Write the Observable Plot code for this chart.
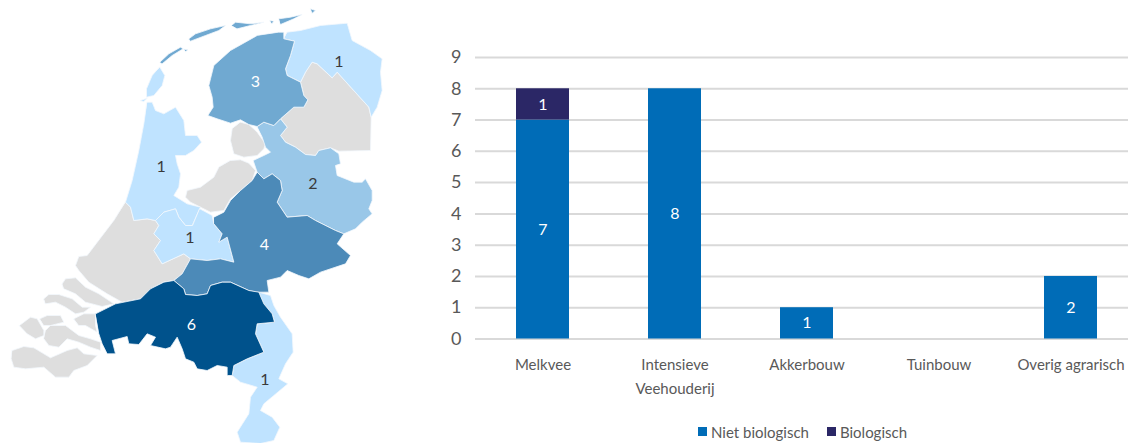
<!DOCTYPE html>
<html>
<head>
<meta charset="utf-8">
<script src="https://cdn.jsdelivr.net/npm/d3@7"></script>
<script src="https://cdn.jsdelivr.net/npm/@observablehq/plot@0.6"></script>
<style>
html,body{margin:0;padding:0;background:#fff;overflow:hidden;width:1128px;height:443px;}
#map{position:absolute;left:0;top:0;}
#bars{position:absolute;left:440px;top:0;width:688px;}
#legend{display:flex;justify-content:flex-start;align-items:center;height:23px;margin-left:258px;font:15px Lato,sans-serif;color:#595959;}
#legend i{display:inline-block;width:9px;height:9px;margin-right:4px;}
#legend span{margin-right:18px;white-space:nowrap;}
svg text{font-family:Lato,sans-serif;}
</style>
</head>
<body>
<div id="map"></div>
<div id="bars"></div>
<script>
// Bar chart data
const categories = ["Melkvee", "Intensieve\nVeehouderij", "Akkerbouw", "Tuinbouw", "Overig agrarisch"];
const nietBiologisch = [7, 8, 1, 0, 2];
const biologisch = [1, 0, 0, 0, 0];
const seriesNames = ["Niet biologisch", "Biologisch"];
const seriesColors = ["#006cb7", "#2b2766"];
const yTicks = [0, 1, 2, 3, 4, 5, 6, 7, 8, 9];

// Map data: province outlines in map units
const friesland = [[835,95],[850,95],[850,115],[882,122],[870,165],[855,205],[860,225],[900,245],[910,285],[922,298],[910,320],[880,320],[840,355],[820,375],[790,365],[770,378],[745,372],[720,358],[690,368],[650,355],[622,345],[638,320],[635,290],[625,255],[630,235],[640,195],[690,150],[770,105]];
const vlieland = [[478,185],[505,160],[540,140],[548,145],[515,165],[485,190]];
const terschelling = [[565,115],[585,100],[630,85],[675,75],[655,90],[615,105],[570,122]];
const ameland = [[693,75],[705,65],[750,70],[790,65],[750,75],[710,85]];
const schiermonnikoog = [[835,55],[870,50],[905,42],[880,55],[840,72]];
const rottumeroog = [[930,25],[945,30],[935,38]];
const engelsmanplaat = [[808,60],[820,62],[814,70]];
const griend = [[550,146],[562,148],[556,153]];
const groningen = [[860,95],[900,90],[960,75],[1040,68],[1055,120],[1110,150],[1145,175],[1140,215],[1145,270],[1130,320],[1112,350],[1105,320],[1010,215],[995,232],[950,190],[935,185],[915,215],[900,245],[860,225],[855,205],[870,165],[882,122],[850,115]];
const drenthe = [[935,185],[950,190],[995,232],[1010,215],[1105,320],[1112,350],[1110,450],[1015,452],[990,442],[955,450],[945,465],[915,462],[885,440],[855,425],[840,405],[860,380],[840,355],[880,320],[910,320],[922,298],[910,285],[900,245],[915,215]];
const overijssel = [[770,378],[790,365],[820,375],[840,355],[860,380],[840,405],[855,425],[885,440],[915,462],[945,465],[955,450],[990,442],[1015,460],[1020,490],[1005,495],[1010,525],[1060,545],[1085,545],[1095,535],[1115,570],[1115,600],[1105,625],[1115,640],[1085,665],[1065,685],[1030,700],[1005,690],[945,660],[920,645],[860,650],[830,605],[845,570],[840,540],[815,520],[790,535],[770,515],[758,480],[790,465],[810,455],[795,440],[785,410]];
const noordoostpolder = [[720,365],[745,372],[770,395],[795,430],[790,445],[770,465],[730,470],[700,460],[690,420],[695,385]];
const flevoland = [[690,480],[720,478],[745,488],[765,510],[755,540],[720,570],[690,595],[670,630],[630,635],[570,605],[555,590],[560,570],[600,560],[640,530],[655,500]];
const noordHolland = [[440,305],[455,305],[465,330],[490,340],[525,320],[550,360],[555,405],[590,405],[603,425],[580,450],[555,465],[525,465],[530,490],[540,520],[535,560],[520,585],[560,610],[600,620],[575,675],[555,675],[535,650],[525,625],[490,635],[465,660],[440,655],[400,660],[390,620],[375,605],[395,540],[415,450],[430,370]];
const texel = [[478,200],[493,225],[485,255],[460,285],[438,290],[438,265],[455,225]];
const noorderhaaks = [[420,300],[440,293],[430,303]];
const utrecht = [[598,625],[635,645],[640,670],[665,700],[655,725],[680,710],[700,785],[660,775],[620,780],[570,775],[550,760],[485,790],[460,750],[480,720],[460,700],[475,675],[465,660],[490,635],[525,625],[535,650],[555,675],[575,675]];
const zuidHolland = [[375,605],[390,620],[400,660],[440,655],[465,660],[475,675],[460,700],[480,720],[460,750],[485,790],[550,760],[570,775],[545,820],[520,840],[490,845],[450,865],[420,895],[365,905],[320,880],[265,845],[235,810],[225,795],[235,768],[260,765],[340,660]];
const goeree = [[185,850],[195,835],[225,832],[255,860],[295,880],[340,910],[305,918],[255,905],[225,880],[190,865]];
const schouwen = [[130,895],[145,882],[175,882],[215,895],[245,920],[270,920],[250,935],[225,940],[195,920],[165,905],[135,910]];
const noordBeveland = [[118,955],[140,945],[180,945],[190,965],[150,975],[130,975]];
const walcheren = [[57,975],[90,950],[110,955],[130,990],[130,1005],[105,1015],[80,1000]];
const zuidBeveland = [[135,990],[150,975],[195,975],[235,1005],[270,1015],[300,1025],[300,1050],[270,1040],[235,1025],[200,1015],[175,1040],[145,1035],[130,1015]];
const tholen = [[220,955],[250,940],[285,940],[285,975],[290,995],[255,975],[235,975]];
const zeeuwsVlaanderen = [[35,1050],[70,1038],[100,1042],[150,1072],[200,1050],[230,1042],[250,1060],[290,1065],[260,1095],[220,1110],[205,1130],[165,1130],[130,1100],[75,1105],[40,1100],[32,1075]];
const gelderland = [[640,650],[670,635],[690,600],[720,570],[755,540],[770,515],[790,535],[815,520],[840,540],[845,570],[830,605],[860,650],[920,645],[945,660],[1005,690],[1030,700],[1010,730],[1050,765],[1035,790],[960,815],[925,835],[895,825],[860,810],[840,830],[800,840],[805,875],[790,875],[770,875],[745,870],[690,845],[665,845],[630,855],[620,880],[590,885],[555,882],[550,865],[520,840],[545,820],[570,775],[620,780],[660,775],[700,785],[680,710],[655,725],[665,700],[640,670]];
const noordBrabant = [[285,940],[345,910],[420,895],[450,865],[490,845],[520,840],[550,865],[555,882],[590,885],[620,880],[630,855],[665,845],[690,845],[745,870],[775,875],[790,910],[815,940],[822,965],[770,970],[765,1000],[790,1055],[740,1075],[700,1095],[695,1125],[680,1125],[680,1100],[650,1095],[620,1110],[590,1105],[580,1085],[555,1075],[545,1045],[530,1010],[510,1040],[495,1045],[450,1035],[465,1010],[440,1000],[415,1032],[385,1030],[380,1008],[335,1020],[345,1060],[320,1060],[305,1030],[295,1000]];
const limburg = [[775,875],[810,885],[820,915],[840,950],[875,1000],[878,1055],[855,1090],[835,1135],[862,1150],[820,1185],[790,1210],[780,1230],[815,1250],[838,1280],[820,1320],[780,1329],[720,1325],[710,1295],[745,1240],[750,1190],[770,1160],[720,1145],[695,1125],[700,1095],[740,1075],[790,1055],[765,1000],[770,970],[822,965],[815,940],[790,910]];

const provinceShapes = [
  {count: 0, parts: [noordoostpolder]},
  {count: 0, parts: [flevoland]},
  {count: 0, parts: [drenthe]},
  {count: 0, parts: [zuidHolland, goeree]},
  {count: 0, parts: [schouwen, noordBeveland, walcheren, zuidBeveland, tholen, zeeuwsVlaanderen]},
  {count: 1, parts: [noordHolland, texel, noorderhaaks]},
  {count: 1, parts: [groningen]},
  {count: 1, parts: [utrecht]},
  {count: 1, parts: [limburg]},
  {count: 2, parts: [overijssel]},
  {count: 3, parts: [friesland, vlieland, griend, terschelling, ameland, schiermonnikoog, engelsmanplaat, rottumeroog]},
  {count: 4, parts: [gelderland]},
  {count: 6, parts: [noordBrabant]}
];
const countLevels = [0, 1, 2, 3, 4, 6];
const countColors = ["#dedede", "#bfe3ff", "#99c7e8", "#70a9d1", "#4c8ab8", "#00528c"];
const labelX = [765, 1015, 482, 937, 568, 792, 573, 793];
const labelY = [245, 183, 498, 550, 712, 732, 973, 1138];
const labelCount = [3, 1, 1, 2, 1, 4, 6, 1];

const features = provinceShapes.map(p => ({
  type: "Feature",
  properties: {count: p.count},
  geometry: {type: "MultiPolygon", coordinates: p.parts.map(r => [[...r, r[0]]])}
}));
const mapLabels = labelCount.map((c, i) => ({x: labelX[i], y: labelY[i], c}));

document.getElementById("map").append(Plot.plot({
  width: 430,
  height: 443,
  margin: 0,
  projection: d3.geoIdentity().scale(1 / 3),
  color: {type: "ordinal", domain: countLevels, range: countColors},
  marks: [
    Plot.geo(features, {fill: d => d.properties.count, stroke: "#f2f8fc", strokeWidth: 0.8, strokeLinejoin: "round"}),
    Plot.text(mapLabels, {
      x: "x", y: "y", text: "c", fontSize: 16,
      fill: d => d.c >= 3 ? "#ffffff" : "#3a3a3a"
    })
  ]
}));

const rows = seriesNames.flatMap((s, si) =>
  categories.map((c, i) => ({category: c, series: s, value: (si === 0 ? nietBiologisch : biologisch)[i]}))
).filter(d => d.value > 0);

document.getElementById("bars").append(Plot.plot({
  width: 688,
  height: 420,
  marginTop: 57,
  marginBottom: 81.5,
  marginLeft: 35,
  marginRight: 0,
  style: {fontSize: "16px", color: "#595959"},
  x: {domain: categories, range: [34.6, 698], paddingInner: 0.6, paddingOuter: 0.3, align: 0.5, label: null},
  y: {domain: [0, 9], label: null},
  color: {domain: seriesNames, range: seriesColors},
  marks: [
    Plot.ruleY(yTicks, {stroke: "#d9d9d9", strokeWidth: 2}),
    Plot.barY(rows, Plot.stackY({x: "category", y: "value", fill: "series", order: seriesNames})),
    Plot.text(rows, Plot.stackY({x: "category", y: "value", z: "series", order: seriesNames, text: "value", fill: "#ffffff", fontSize: 16})),
    Plot.axisY({ticks: yTicks, tickSize: 0, tickPadding: 14, fontSize: 18, fill: "#595959", label: null, tickFormat: d3.format("d")}),
    Plot.axisX({tickSize: 0, tickPadding: 14, fontSize: 15, lineHeight: 1.6, fill: "#595959", label: null, lineWidth: 20})
  ]
}));

const legend = document.createElement("div");
legend.id = "legend";
seriesNames.forEach((s, i) => {
  const sw = document.createElement("i");
  sw.style.background = seriesColors[i];
  const t = document.createElement("span");
  t.textContent = s;
  legend.append(sw, t);
});
document.getElementById("bars").append(legend);
</script>
</body>
</html>
